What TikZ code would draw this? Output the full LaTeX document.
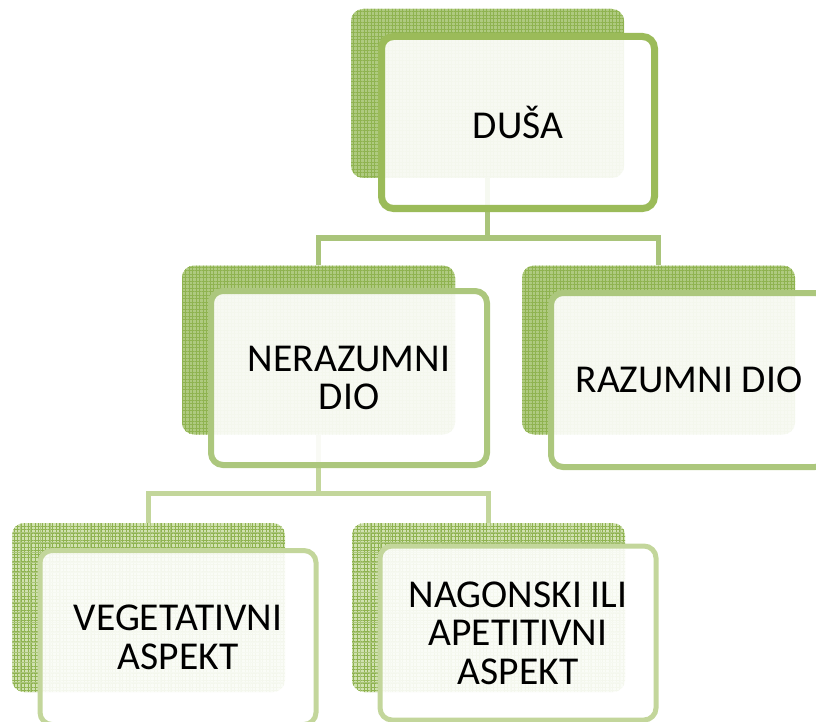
\documentclass[tikz,border=0pt]{standalone}
\usepackage{fontspec}
\setmainfont{Carlito}
\usetikzlibrary{patterns.meta}

\definecolor{rimdark}{HTML}{9BBB59}
\definecolor{rimmid}{HTML}{ACC77D}
\definecolor{rimlight}{HTML}{C3D69B}
\definecolor{backdark}{HTML}{AFCA80}
\definecolor{backlight}{HTML}{D0E1B0}
\definecolor{griddark}{HTML}{8FB350}
\definecolor{gridlight}{HTML}{A9C47A}

\begin{document}
\begin{tikzpicture}[x=1pt,y=-1pt,
  back/.style={rectangle,rounded corners=12pt,minimum width=273pt,minimum height=169pt,
    fill=backdark,
    postaction={pattern={Lines[angle=0,distance=3.5pt,line width=0.9pt]},pattern color=griddark},
    postaction={pattern={Lines[angle=90,distance=3.5pt,line width=0.9pt]},pattern color=griddark}},
  backlow/.style={back,fill=backlight,
    postaction={pattern={Lines[angle=0,distance=10pt,line width=0.9pt]},pattern color=gridlight},
    postaction={pattern={Lines[angle=90,distance=10pt,line width=0.9pt]},pattern color=gridlight}},
  front/.style={rectangle,rounded corners=12pt,draw=rimmid,line width=6pt,
    fill=white,fill opacity=0.9,text opacity=1,align=center,
    minimum width=276pt,minimum height=174pt,
    font=\fontsize{39.5}{38.5}\selectfont},
  edge/.style={line width=5.5pt,draw=gridlight}]
\useasboundingbox (0,0) rectangle (816,722);
\clip (0,0) rectangle (816,722);

\node(dusab)[back] at (487.5,93.5) {};
\node(nerb)[back] at (318.5,350) {};
\node(razb)[back] at (658.5,350) {};
\node(vegb)[backlow] at (148.5,607.5) {};
\node(nagb)[backlow] at (488.5,607.5) {};

\draw [edge] (dusab.south) -- ++(0,60) -| (nerb.north);
\draw [edge] (dusab.south) -- ++(0,60) -| (razb.north);
\draw [edge,draw=rimlight] (nerb.south) -- ++(0,59) -| (vegb.north);
\draw [edge,draw=rimlight] (nerb.south) -- ++(0,59) -| (nagb.north);

\node(dusa)[front,draw=rimdark,line width=7pt,minimum width=273pt,minimum height=172pt] at (518,122.5) {DUŠA};
\node(ner)[front] at (349,378) {NERAZUMNI\\DIO};
\node(raz)[front] at (689,380) {RAZUMNI DIO};
\node(veg)[front,draw=rimlight,line width=5pt] at (178,637.5) {VEGETATIVNI\\ASPEKT};
\node(nag)[front,draw=rimlight,line width=5pt] at (518,633) {NAGONSKI ILI\\APETITIVNI\\ASPEKT};
\end{tikzpicture}
\end{document}
